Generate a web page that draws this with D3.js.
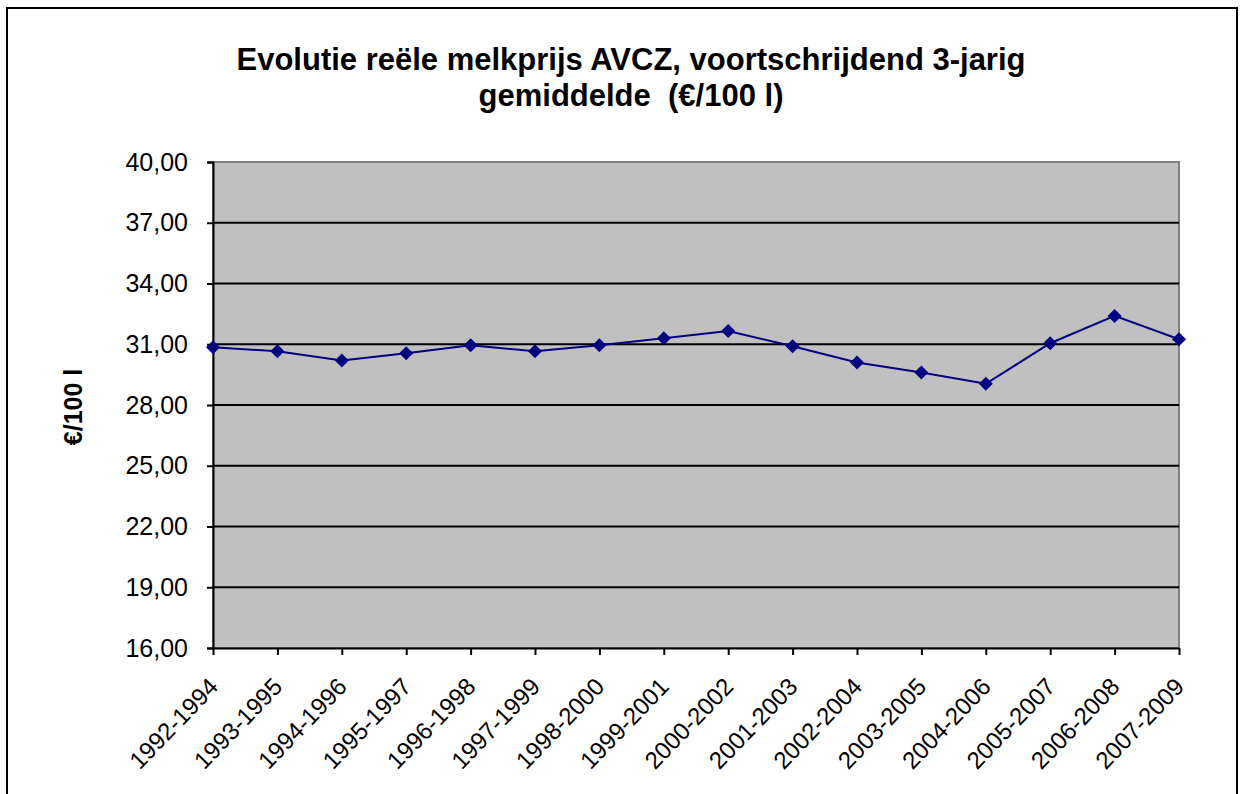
<!DOCTYPE html>
<html>
<head>
    <title>Melkprijs</title>
    <script src="https://d3js.org/d3.v7.min.js"></script>
    <style>
        body { margin: 0; background: #fff; }
        text { font-family: "Liberation Sans", Arial, sans-serif; white-space: pre; }
    </style>
</head>
<body>
<script>
// periods (3-year moving windows)
const periods = ['1992-1994', '1993-1995', '1994-1996', '1995-1997', '1996-1998', '1997-1999',
    '1998-2000', '1999-2001', '2000-2002', '2001-2003', '2002-2004', '2003-2005',
    '2004-2006', '2005-2007', '2006-2008', '2007-2009'];
// real milk price, euro per 100 l
const prices = [30.85, 30.65, 30.2, 30.55, 30.95, 30.65, 30.95, 31.3, 31.65, 30.9,
    30.1, 29.6, 29.05, 31.05, 32.4, 31.25];
const yTicks = [16, 19, 22, 25, 28, 31, 34, 37, 40];

const W = 1240, H = 794;
const margin = { top: 162, right: 61, bottom: 146, left: 213 };
const width = W - margin.left - margin.right;
const height = H - margin.top - margin.bottom;

const svg = d3.select('body')
    .append('svg')
    .attr('width', W)
    .attr('height', H);

// outer chart border
svg.append('rect')
    .attr('x', 7).attr('y', 8)
    .attr('width', 1230).attr('height', 820)
    .attr('fill', 'none')
    .attr('stroke', '#000')
    .attr('stroke-width', 2);

// title
const title = svg.append('text')
    .attr('text-anchor', 'middle')
    .attr('font-weight', 'bold')
    .attr('font-size', 31);
title.append('tspan').attr('x', 631).attr('y', 70)
    .text('Evolutie reële melkprijs AVCZ, voortschrijdend 3-jarig');
title.append('tspan').attr('x', 631).attr('y', 106)
    .text('gemiddelde  (€/100 l)');

const g = svg.append('g')
    .attr('transform', `translate(${margin.left},${margin.top})`);

const x = d3.scalePoint()
    .domain(periods)
    .range([0, width]);

const y = d3.scaleLinear()
    .domain([16, 40])
    .range([height, 0]);

// plot background
g.append('rect')
    .attr('width', width)
    .attr('height', height)
    .attr('fill', '#c0c0c0')
    .attr('stroke', '#808080')
    .attr('stroke-width', 2);

// gridlines
g.selectAll('.grid')
    .data(yTicks.slice(1, -1))
    .enter()
    .append('line')
    .attr('x1', 0)
    .attr('x2', width)
    .attr('y1', d => y(d))
    .attr('y2', d => y(d))
    .attr('stroke', '#000')
    .attr('stroke-width', 2);

// y axis
const yAxis = g.append('g')
    .call(d3.axisLeft(y).tickValues(yTicks).tickSize(6).tickPadding(19)
        .tickFormat(d => d3.format('.2f')(d).replace('.', ',')));
yAxis.selectAll('line, path').attr('stroke', '#000').attr('stroke-width', 2);
yAxis.selectAll('text').attr('font-size', 25).attr('font-family', '"Liberation Sans", Arial, sans-serif')
    .attr('fill', '#000');

// x axis
const xAxis = g.append('g')
    .attr('transform', `translate(0,${height})`)
    .call(d3.axisBottom(x).tickSize(7).tickSizeOuter(0));
xAxis.selectAll('line, path').attr('stroke', '#000').attr('stroke-width', 2);
xAxis.selectAll('text')
    .attr('font-size', 24)
    .attr('font-family', '"Liberation Sans", Arial, sans-serif')
    .attr('fill', '#000')
    .attr('text-anchor', 'end')
    .attr('dy', 0)
    .attr('x', 6)
    .attr('y', 40)
    .attr('transform', 'rotate(-46, 6, 40)');

// axis title
svg.append('text')
    .attr('transform', 'translate(82,407) rotate(-90)')
    .attr('text-anchor', 'middle')
    .attr('font-weight', 'bold')
    .attr('font-size', 25)
    .text('€/100 l');

// line
g.append('path')
    .datum(prices)
    .attr('fill', 'none')
    .attr('stroke', '#000080')
    .attr('stroke-width', 2)
    .attr('d', d3.line()
        .x((d, i) => x(periods[i]))
        .y(d => y(d)));

// diamond markers
g.selectAll('.marker')
    .data(prices)
    .enter()
    .append('path')
    .attr('transform', (d, i) => `translate(${x(periods[i])},${y(d)})`)
    .attr('d', 'M0,-7L7,0L0,7L-7,0Z')
    .attr('fill', '#000080');
</script>
</body>
</html>
